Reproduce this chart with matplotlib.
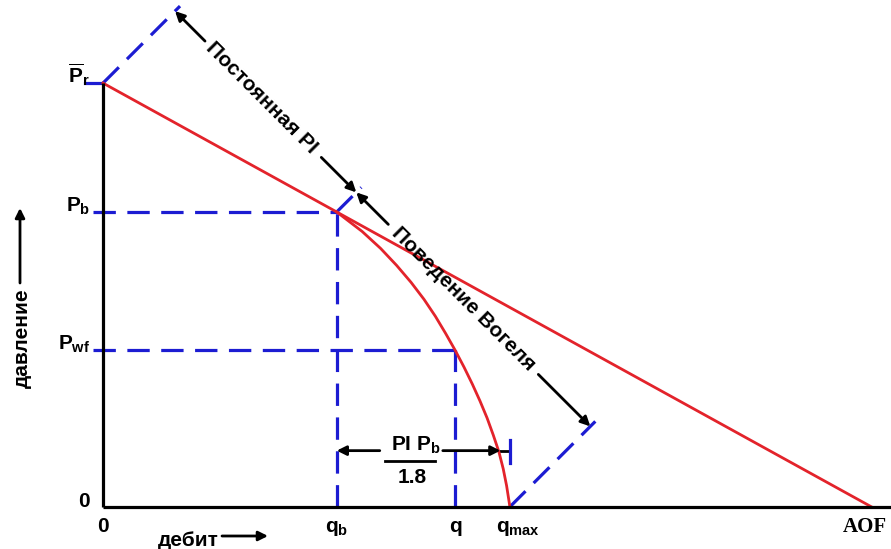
"""IPR sketch: constant PI straight line above the bubble point and
Vogel behaviour below it (schematic, arbitrary units).

    python plot.py  ->  out.png
"""

import matplotlib

matplotlib.use("Agg")
import matplotlib.pyplot as plt
import numpy as np

plt.rcParams["font.family"] = ["Liberation Sans", "DejaVu Sans"]
plt.rcParams["font.weight"] = "bold"
plt.rcParams["mathtext.fontset"] = "custom"
plt.rcParams["mathtext.rm"] = "Liberation Sans:bold"
plt.rcParams["mathtext.it"] = "Liberation Sans:bold"
plt.rcParams["mathtext.bf"] = "Liberation Sans:bold"
plt.rcParams["mathtext.sf"] = "Liberation Sans:bold"

RED = "#e3232b"
BLUE = "#1c1cd2"
DASH = (7.0, 3.6)

# pressures scaled so that Pr = 100, rates so that AOF = 100
P_RES = 100.0
P_B = 69.6
P_WF = 37.0
Q_B = 30.4
Q_OP = 45.8
Q_MAX = 52.9
Q_AOF = 100.0

# constant-PI straight line
pi_q = [0.0, Q_AOF]
pi_p = [P_RES, 0.0]

# Vogel curve below the bubble point
vogel_p = [69.6, 65.0, 61.0, 57.0, 53.0, 49.0, 45.0, 41.0, 37.0,
           33.0, 29.0, 25.0, 21.0, 17.0, 13.0, 9.0, 5.0, 0.0]
vogel_q = [30.40, 33.71, 36.11, 38.19, 40.07, 41.75, 43.23, 44.55, 45.80,
           46.96, 48.04, 49.04, 49.96, 50.76, 51.50, 52.06, 52.50, 52.93]

x_ticks = [0.0, Q_B, Q_OP, Q_MAX]
x_labels = ["0", "$q_b$", "q", "$q_{max}$"]
x_label_shift = [0.0, 0.0, 0.0, 1.1]
y_ticks = [0.0, P_WF, P_B, P_RES]
y_labels = ["0", "$P_{wf}$", "$P_b$", r"$\overline{P}_r$"]

W, H = 891, 549
fig = plt.figure(figsize=(W / 100, H / 100), dpi=100)
ax = fig.add_axes([0, 0, 1, 1])
ax.set_xlim(-13.4, 102.5)
ax.set_ylim(-9.9, 119.6)
ax.set_axis_off()

# axes drawn by hand (sketch style)
ax.plot([0, 0], [0, P_RES], color="black", lw=2.3, zorder=4,
        solid_capstyle="butt")
ax.plot([0, ax.get_xlim()[1]], [0, 0], color="black", lw=2.3, zorder=4,
        solid_capstyle="butt")

# guide lines
ax.plot([-2.3, 0], [P_RES, P_RES], color=BLUE, lw=2.3, zorder=3)
for p, q in [(P_B, Q_B), (P_WF, Q_OP)]:
    ax.plot([-1.3, q], [p, p], color=BLUE, lw=2.3, dashes=DASH, zorder=2)
    ax.plot([q, q], [0, p], color=BLUE, lw=2.3, dashes=DASH, zorder=2)

# IPR curves
ax.plot(pi_q, pi_p, color=RED, lw=2.0, zorder=3)
ax.plot(vogel_q, vogel_p, color=RED, lw=2.0, zorder=3,
        solid_joinstyle="round")

# tick labels
for x, lab, dx in zip(x_ticks, x_labels, x_label_shift):
    ax.text(x + dx, -6.0, lab, ha="center", va="baseline", fontsize=15)
ax.text(Q_AOF - 0.9, -6.0, "AOF", ha="center", va="baseline", fontsize=15,
        family="Liberation Serif", weight="bold")
for y, lab in zip(y_ticks, y_labels):
    ax.text(-1.7, y, lab, ha="right", va="baseline", fontsize=15)

# axis names with arrows (figure pixels)
ax.annotate("дебит", xy=(188, 9), xycoords="figure pixels", ha="center",
            va="center", fontsize=15)
ax.annotate("", xy=(268, 13), xytext=(222, 13), xycoords="figure pixels",
            textcoords="figure pixels",
            arrowprops=dict(arrowstyle="-|>", color="black", lw=2,
                            mutation_scale=14, shrinkA=0, shrinkB=0))
ax.annotate("давление", xy=(22, 211), xycoords="figure pixels", ha="center",
            va="center", rotation=90, fontsize=15)
ax.annotate("", xy=(20, 341), xytext=(20, 266), xycoords="figure pixels",
            textcoords="figure pixels",
            arrowprops=dict(arrowstyle="-|>", color="black", lw=2,
                            mutation_scale=14, shrinkA=0, shrinkB=0))

# PI*Pb/1.8 dimension between qb and qmax
Y_DIM = 13.3
ax.plot([Q_MAX, Q_MAX], [Y_DIM - 2.8, Y_DIM + 2.6], color=BLUE, lw=2.3,
        zorder=3)
arrow = dict(arrowstyle="-|>", color="black", lw=2, mutation_scale=14,
             shrinkA=0, shrinkB=0)
ax.annotate("", xy=(Q_B, Y_DIM), xytext=(36.0, Y_DIM), arrowprops=arrow)
ax.annotate("", xy=(Q_MAX - 1.2, Y_DIM), xytext=(44.2, Y_DIM),
            arrowprops=arrow)
ax.plot([Q_MAX - 1.2, Q_MAX], [Y_DIM, Y_DIM], color="black", lw=2)
ax.text(40.7, 13.4, "PI $P_b$", ha="center", va="baseline", fontsize=15)
ax.plot([36.7, 43.2], [10.8, 10.8], color="black", lw=2)
ax.text(40.2, 5.6, "1.8", ha="center", va="baseline", fontsize=15)

# 45 degree dimension lines: "Постоянная PI" and "Поведение Вогеля"
to_px = ax.transData.transform
to_data = ax.transData.inverted().transform
pr_px = to_px((0, P_RES))
pb_px = to_px((Q_B, P_B))
qm_px = to_px((Q_MAX, 0))
K = pr_px.sum() + 144.0  # dimension line: X + Y = K (display pixels)


def foot(p):
    t = (K - p.sum()) / 2.0
    return p + t


along = np.array([1.0, -1.0])
tips = [foot(p) for p in (pr_px, pb_px, qm_px)]
for p, tip in zip((pr_px, pb_px, qm_px), tips):
    end = tip + np.array([5.0, 5.0])
    seg = to_data(np.array([p, end]))
    ax.plot(seg[:, 0], seg[:, 1], color=BLUE, lw=2.3, dashes=DASH, zorder=2)

tip_a, tip_b, tip_c = tips
for tail, tip in [(tip_a + 30 * along, tip_a), (tip_b - 35 * along, tip_b),
                  (tip_b + 32 * along, tip_b), (tip_c - 52 * along, tip_c)]:
    ax.annotate("", xy=to_data(tip), xytext=to_data(tail), arrowprops=arrow)

for lab, pos in [("Постоянная PI", tip_a + 87 * along),
                 ("Поведение Вогеля", tip_b + 107 * along)]:
    x, y = to_data(pos)
    ax.text(x, y, lab, rotation=-45, rotation_mode="anchor", ha="center",
            va="center", fontsize=15, zorder=5)

fig.savefig("out.png", dpi=100)
